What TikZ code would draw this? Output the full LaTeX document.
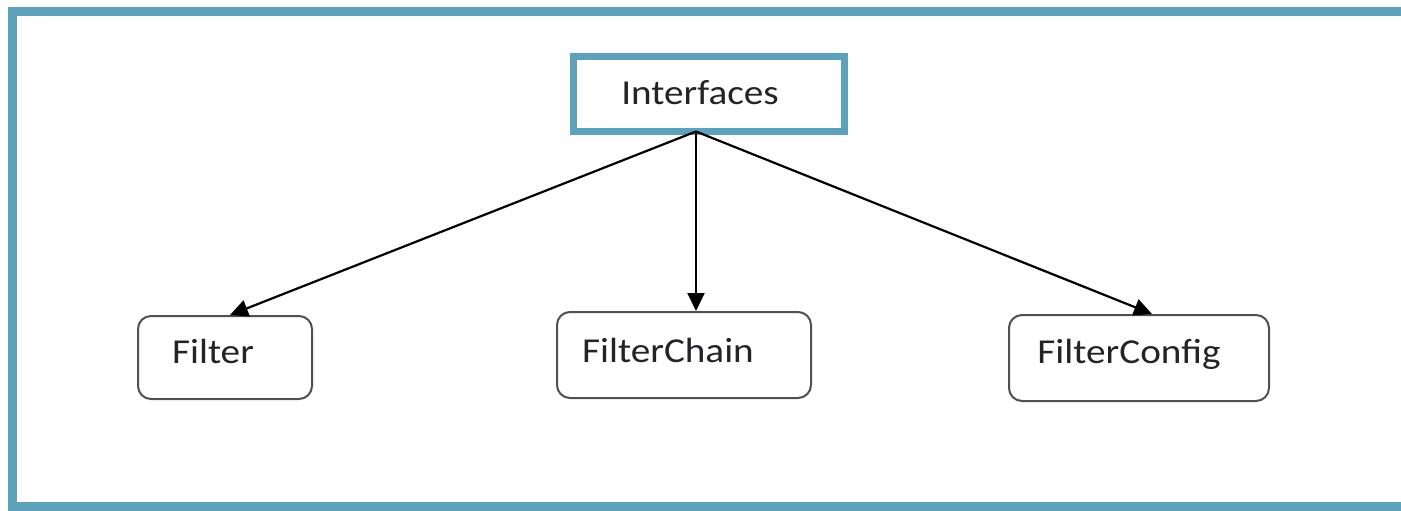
\documentclass[tikz,border=0pt]{standalone}
\usepackage{fontspec}
\setmainfont{Carlito}[FakeStretch=1.12]
\usetikzlibrary{arrows.meta}
\definecolor{frameblue}{RGB}{93,162,186}
\definecolor{boxgray}{RGB}{80,80,80}
\definecolor{txt}{RGB}{35,35,40}
\tikzset{
  leaf/.style={draw=boxgray, line width=2pt, rounded corners=13pt, fill=white, inner sep=0pt},
  rootbox/.style={draw=frameblue, line width=7pt, fill=white, inner sep=0pt},
  lbl/.style={anchor=base, inner sep=0pt, text=txt, font=\fontsize{35}{40}\selectfont},
  conn/.style={black, line width=2.2pt, -{Triangle[length=18pt,width=17pt]}}
}
\begin{document}
\begin{tikzpicture}[x=1pt,y=-1pt]
\useasboundingbox (0,0) rectangle (1401,511);
\fill[white] (0,0) rectangle (1401,511);
\draw[frameblue, line width=9pt] (1420,12) -- (12.5,12) -- (12.5,506) -- (1420,506);
\node[rootbox, minimum width=271pt, minimum height=75pt] (i) at (709,94) {};
\node[leaf, minimum width=174pt, minimum height=83pt] (f) at (225,357.5) {};
\node[leaf, minimum width=254pt, minimum height=86pt] (c) at (684,355) {};
\node[leaf, minimum width=260pt, minimum height=86pt] (g) at (1139,358) {};
\node[lbl] (it) at (700,104) {Interfaces};
\node[lbl] (ft) at (213,363) {Filter};
\node[lbl] (ct) at (668,362) {FilterChain};
\node[lbl] (gt) at (1129,363) {FilterConfig};
\coordinate (apex) at ([xshift=-13pt,yshift=3.5pt]i.south);
\draw[conn] (apex) -- ([xshift=5pt]f.north);
\draw[conn] (apex) -- ([xshift=12pt]c.north);
\draw[conn] (apex) -- ([xshift=13pt]g.north);
\end{tikzpicture}
\end{document}
